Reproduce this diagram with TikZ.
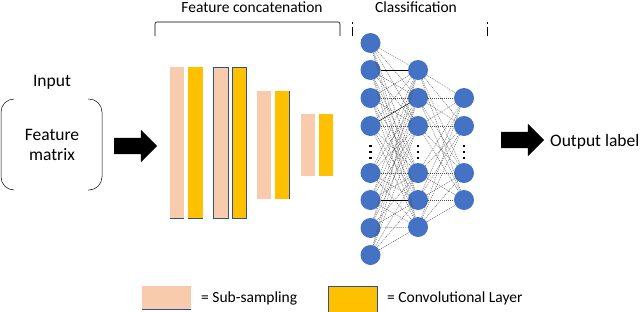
\documentclass[tikz,border=0pt]{standalone}
\usepackage{fontspec}
\setmainfont{Carlito}
\usepackage{tikz}
\usetikzlibrary{arrows.meta,positioning,shapes.arrows}
\definecolor{subpink}{RGB}{248,203,173}
\definecolor{convyellow}{RGB}{255,192,0}
\definecolor{neuronblue}{RGB}{68,114,196}
\definecolor{edgeblue}{RGB}{47,82,143}

\begin{document}
\begin{tikzpicture}[x=1pt, y=-1pt,
  neuron/.style={circle, fill=neuronblue, draw=none, minimum size=20pt, inner sep=0pt},
  link/.style={gray!60!black, line width=0.4pt, dash pattern=on 1pt off 1pt},
  bigarrow/.style={single arrow, fill=black, draw=none, inner sep=8pt,
                   single arrow head extend=8pt, minimum height=43pt},
  lbl/.style={font=\fontsize{15.5}{18}\selectfont, inner sep=0pt},
  biglbl/.style={font=\fontsize{17.5}{20}\selectfont, inner sep=0pt, align=center},
  vdots/.style={fill=black, minimum size=2.2pt, inner sep=0pt}
]
\useasboundingbox (0,0) rectangle (640,311);

% headings and brackets
\node[lbl] (featcat) at (252,7) {Feature concatenation};
\node[lbl] (classif) at (416,7) {Classification};
\draw[line width=0.6pt, rounded corners=2pt] (155,36) -- (155,22) -- (340,22) -- (340,36);
\foreach \x in {352,487}
  \draw[line width=0.6pt] (\x,22) -- (\x,24) (\x,27) -- (\x,36);

% input
\node[biglbl] (input) at (52,82) {Input};
\node[biglbl] (featmat) at (52,145) {Feature\\matrix};
\draw[line width=0.5pt, rounded corners=13pt] (14,99) -- (1,99) -- (1,190) -- (14,190);
\draw[line width=0.5pt, rounded corners=13pt] (88,99) -- (102,99) -- (102,190) -- (88,190);
\node[bigarrow] (inarrow) at (131.5,146) {};

% sub-sampling / convolution bars
\fill[subpink]    (170,67) rectangle (184,218);
\fill[convyellow] (188,67) rectangle (203,218);
\draw[edgeblue, line width=0.8pt] (170,218) -- (184,218) (188,218) -- (203,218);
\filldraw[fill=subpink, draw=edgeblue, line width=0.6pt]    (213.5,67) rectangle (228,218);
\filldraw[fill=convyellow, draw=edgeblue, line width=0.6pt] (232,67) rectangle (246.5,218);
\fill[subpink]    (257,91) rectangle (271,199);
\fill[convyellow] (275,91) rectangle (289.5,199);
\draw[edgeblue, line width=0.6pt] (289.5,91) -- (289.5,199);
\fill[subpink]    (301,114) rectangle (315,176);
\fill[convyellow] (319,114) rectangle (333,176);

% classification network
\foreach \y [count=\i] in {43,70,98,126,173,200,228,255}
  \node[neuron] (a\i) at (370.5,\y) {};
\foreach \y [count=\i] in {70,98,126,173,200,227}
  \node[neuron] (b\i) at (418,\y) {};
\foreach \y [count=\i] in {98,126,173,200}
  \node[neuron] (c\i) at (464,\y) {};
\foreach \x/\n in {370.5/a,418/b,464/c}
  \foreach \y [count=\k] in {146,152,158}
    \node[vdots] (dots\n\k) at (\x,\y) {};

\foreach \i in {1,...,8}
  \foreach \j in {1,...,6}
    \draw[link] (a\i) -- (b\j);
\foreach \i in {1,...,6}
  \foreach \j in {1,...,4}
    \draw[link] (b\i) -- (c\j);
\draw[line width=0.6pt] (a2) -- (b1);
\draw[line width=0.35pt] (a4) -- (b2);
\draw[line width=0.35pt] (a6) -- (b5);

% output
\node[bigarrow] (outarrow) at (518.5,140) {};
\node[biglbl, anchor=west] (outlabel) at (550,142) {Output label};

% legend
\fill[subpink] (142,286) rectangle (191,309);
\draw[edgeblue, line width=0.6pt] (142,309) -- (191,309);
\node[lbl, anchor=west] (leg1) at (201,298) {= Sub-sampling};
\filldraw[fill=convyellow, draw=edgeblue, line width=0.5pt] (328,286) rectangle (377,312);
\node[lbl, anchor=west] (leg2) at (387,298) {= Convolutional Layer};
\end{tikzpicture}
\end{document}
